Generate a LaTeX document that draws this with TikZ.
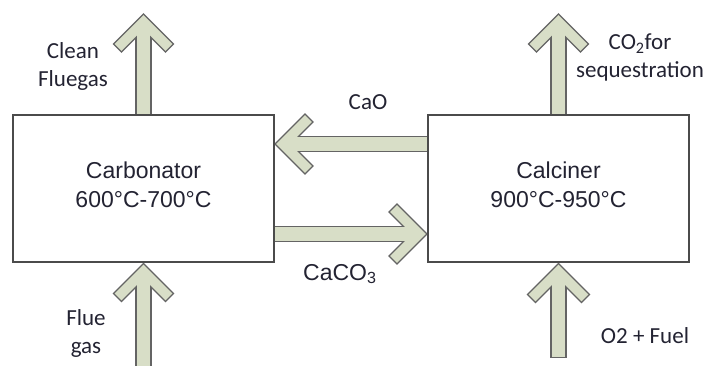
\documentclass[tikz,border=0pt]{standalone}
\usepackage{fontspec}
\setmainfont{Liberation Sans}
\newfontfamily\calib{Carlito}
\usetikzlibrary{calc,backgrounds}
\definecolor{arrfill}{RGB}{216,222,199}
\definecolor{arrline}{RGB}{100,100,100}
\definecolor{boxline}{RGB}{75,75,75}
\definecolor{txt}{RGB}{35,35,50}
\tikzset{
 shaftout/.style={draw=arrline, line width=16.5pt, line cap=rect},
 shaftin/.style={draw=arrfill, line width=13.7pt, line cap=rect},
 headout/.style={draw=arrline, line width=12.6pt, line cap=rect, line join=miter},
 headin/.style={draw=arrfill, line width=9.8pt, line cap=rect, line join=miter},
 reactor/.style={draw=boxline, line width=1.3pt, fill=white, minimum width=261pt, minimum height=147pt, inner sep=0pt, outer sep=0pt},
 boxtext/.style={text=txt, font=\fontsize{23}{29}\selectfont, align=center, inner sep=0pt},
 lbl/.style={text=txt, font=\calib\fontsize{23}{28}\selectfont, align=center, inner sep=0pt},
}
\newcommand\fatarrow[5]{%
 \draw[shaftout] (#1) -- (#2);
 \draw[headout] (#3) -- (#4) -- (#5);
 \draw[shaftin] (#1) -- (#2);
 \draw[headin] (#3) -- (#4) -- (#5);}
\begin{document}
\begin{tikzpicture}[x=1pt,y=-1pt]
\useasboundingbox (0,0) rectangle (713,365);
\node[reactor] (carb) at (143.5,188.5) {};
\node[reactor] (calc) at (558.5,188.5) {};
\node[boxtext] (carbT) at (143.5,185) {Carbonator\\600°C-700°C};
\node[boxtext] (calcT) at (558.5,185) {Calciner\\900°C-950°C};
\node[lbl] (clean) at (73,66) {Clean\\Fluegas};
\node[lbl] (co2) at (640,57.5) {CO\textsubscript{2}for\\sequestration};
\node[lbl] (flue) at (86,333) {Flue\\gas};
\node[lbl] (fuel) at (645,336) {O2 + Fuel};
\node[lbl] (cao) at (368,102) {CaO};
\node[boxtext, anchor=base west] (caco) at (303,280) {CaCO\textsubscript{3}};
% arrow geometry
\coordinate (t1) at ($(carb.north)+(0,-93)$);
\coordinate (t2) at ($(calc.north)+(0,-93)$);
\coordinate (t3) at ($(carb.south)+(0,9.5)$);
\coordinate (t4) at ($(calc.south)+(0,9.5)$);
\coordinate (t5) at ($(carb.east)+(9,-44.5)$);
\coordinate (t6) at ($(calc.west)+(-9,45.5)$);
\coordinate (f3) at (143.5,385);
\coordinate (f4) at (558.5,350);
\begin{pgfonlayer}{background}
\fatarrow{$(carb.north)+(0,10)$}{$(t1)+(0,12)$}{$(t1)+(-22,22)$}{t1}{$(t1)+(22,22)$}
\fatarrow{$(calc.north)+(0,10)$}{$(t2)+(0,12)$}{$(t2)+(-22,22)$}{t2}{$(t2)+(22,22)$}
\fatarrow{f3}{$(t3)+(0,12)$}{$(t3)+(-22,22)$}{t3}{$(t3)+(22,22)$}
\fatarrow{f4}{$(t4)+(0,12)$}{$(t4)+(-23,23)$}{t4}{$(t4)+(23,23)$}
\fatarrow{$(calc.west)+(10,-44.5)$}{$(t5)+(12,0)$}{$(t5)+(22,-22)$}{t5}{$(t5)+(22,22)$}
\fatarrow{$(carb.east)+(-10,45.5)$}{$(t6)+(-12,0)$}{$(t6)+(-22,-22)$}{t6}{$(t6)+(-22,22)$}
\end{pgfonlayer}
\end{tikzpicture}
\end{document}
